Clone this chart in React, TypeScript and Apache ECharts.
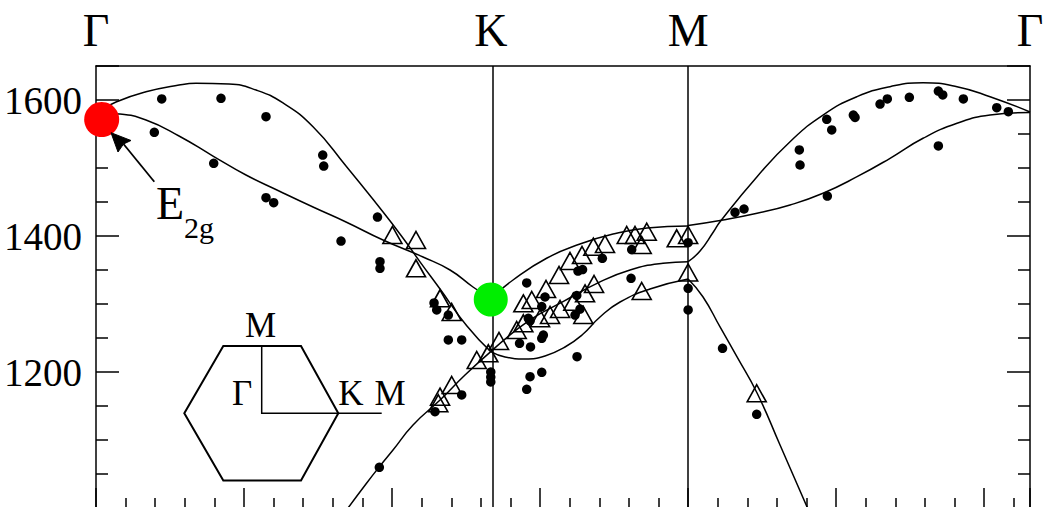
import React, { useEffect, useRef } from 'react';
import * as echarts from 'echarts';

const K_POS = 2 / 3;
const M_POS = 1;
const G_END = 1 + 1 / Math.sqrt(3);

const TOP_LABEL_VALUES = [0, K_POS, M_POS, G_END];
const TOP_LABEL_TEXT = ['Γ', 'K', 'M', 'Γ'];
const Y_LABELS = [1200, 1400, 1600];

// theory curves
const CURVE_GK_HUMP = [[0, 1581], [0.0338, 1597], [0.0844, 1612], [0.1402, 1622], [0.1689, 1624.6], [0.2246, 1623.5], [0.2702, 1614.7], [0.3158, 1595.6], [0.3665, 1560.7], [0.4222, 1503], [0.4741, 1447], [0.5168, 1399], [0.5472, 1362], [0.581, 1322], [0.6261, 1268], [K_POS, 1230]];
const CURVE_GK_LOWER = [[0, 1581], [0.0388, 1579.4], [0.0844, 1570.6], [0.1402, 1547.1], [0.1976, 1517.6], [0.2533, 1489.7], [0.3091, 1466.2], [0.3665, 1442.6], [0.4222, 1420.6], [0.4847, 1394.1], [0.5523, 1369.1], [0.5979, 1350], [0.6367, 1325], [K_POS, 1308]];
const CURVE_GK_LA = [[0.4256, 1000], [0.4572, 1036.8], [0.4796, 1061.8], [0.5016, 1085.3], [0.5354, 1122.1], [0.581, 1158.8], [0.6232, 1195.6], [K_POS, 1230]];
const CURVE_KM_UPPER = [[K_POS, 1308], [0.7043, 1335.3], [0.7617, 1367.6], [0.8174, 1388.2], [0.8732, 1402.9], [0.9306, 1411.8], [M_POS, 1414.7]];
const CURVE_KM_MID = [[K_POS, 1230], [0.733, 1276.5], [0.7887, 1303.4], [0.8461, 1330.4], [0.9019, 1350], [0.9576, 1359.9], [M_POS, 1362.2]];
const CURVE_KM_DIP = [[K_POS, 1230], [0.6908, 1222.1], [0.7245, 1219.1], [0.7583, 1223.5], [0.7921, 1236.8], [0.8208, 1254.4], [0.8512, 1280.9], [0.885, 1302.9], [0.9356, 1322.1], [M_POS, 1336.8]];
const CURVE_MG_LOWER = [[M_POS, 1415.5], [1.059, 1423.5], [1.1164, 1433.4], [1.1721, 1445.6], [1.2278, 1462.8], [1.2853, 1487.2], [1.341, 1514.3], [1.3967, 1543.7], [1.4541, 1565.7], [1.5099, 1577.9], [G_END, 1581.6]];
const CURVE_MG_UPPER = [[M_POS, 1362.2], [1.0201, 1377.9], [1.0426, 1405.9], [1.0539, 1421], [1.1164, 1487.2], [1.1721, 1538.7], [1.2278, 1577.9], [1.2853, 1604.9], [1.341, 1619.6], [1.3967, 1625.4], [1.4541, 1619.6], [1.5099, 1604.9], [G_END, 1582.4]];
const CURVE_MG_DESC = [[M_POS, 1336.8], [1.0252, 1310.3], [1.0539, 1266.2], [1.0826, 1222.1], [1.1164, 1169.1], [1.1552, 1092.6], [1.2016, 1000]];

// experimental points: filled circles
const DOTS_GK = [[0.111, 1601.5], [0.2111, 1602.5], [0.2871, 1575.4], [0.0985, 1552.5], [0.1988, 1506.9], [0.3829, 1519.1], [0.3846, 1502.9], [0.2871, 1456.3], [0.3001, 1449], [0.4754, 1427.9], [0.4138, 1392.6], [0.4796, 1362.2], [0.4796, 1352.5], [0.5709, 1301.5], [0.5754, 1291.2], [0.595, 1283.8], [0.595, 1247.1], [0.6176, 1247.1], [0.6176, 1166.2], [0.5725, 1141.6], [0.4785, 1059.9], [0.6667, 1200], [0.6667, 1192.6], [0.6667, 1185.3]];
const DOTS_KM = [[0.7274, 1330.9], [0.7583, 1310.3], [0.7528, 1296.3], [0.7301, 1279], [0.733, 1275], [0.7555, 1254.4], [0.7528, 1249.6], [0.7153, 1242.2], [0.7338, 1236.8], [0.8119, 1312.5], [0.809, 1283.8], [0.8174, 1292.6], [0.8124, 1222.5], [0.733, 1193.1], [0.7528, 1199.6], [0.7274, 1174.6], [0.8551, 1367.2], [0.814, 1348.5], [0.8217, 1350.7], [0.9047, 1380.1], [0.9036, 1337.8], [1.0, 1390.1], [1.0, 1323.1], [1.0, 1291.2]];
const DOTS_MG = [[1.0581, 1234.9], [1.1158, 1137.8], [1.0792, 1434.9], [1.0944, 1439.7], [1.1878, 1526.5], [1.189, 1504.4], [1.2341, 1571.6], [1.2425, 1555.9], [1.2351, 1458.8], [1.279, 1577.9], [1.2819, 1574.3], [1.3241, 1594.1], [1.3364, 1601.5], [1.3736, 1604], [1.4226, 1613.2], [1.43, 1607.4], [1.4648, 1601.5], [1.4226, 1532.4], [1.5212, 1588.7], [1.5408, 1582.8]];

// experimental points: open triangles
const TRI_GK = [[0.5006, 1401.5], [0.5404, 1394.1], [0.5404, 1352.5], [0.581, 1308.4], [0.6007, 1288.2], [0.643, 1217.6], [0.6626, 1227.5], [0.6007, 1180.9], [0.581, 1163.7], [0.5781, 1154]];
const TRI_KM = [[0.6806, 1245.6], [0.7105, 1261.8], [0.7217, 1301], [0.7359, 1305.9], [0.76, 1322.1], [0.782, 1342.6], [0.8005, 1363.2], [0.8208, 1372.1], [0.8399, 1384.3], [0.8596, 1388.2], [0.8963, 1401.5], [0.9103, 1401.5], [0.9301, 1406.3], [0.9216, 1386.8], [0.9807, 1396.6], [1.0, 1401.5], [0.7217, 1271.6], [0.7499, 1279], [0.7668, 1283.8], [0.7837, 1292.6], [0.8061, 1303.4], [0.8259, 1315.7], [0.8411, 1329.4], [0.823, 1283.8], [0.9216, 1319.1], [1.0, 1346.3]];
const TRI_MG = [[1.1158, 1168.7]];

const E2G_POINT = [[0.0096, 1571.3]];
const K_POINT = [[K_POS, 1306.6]];

const SERIF = '"Liberation Serif", "Times New Roman", serif';
const BLACK = '#000';

export default function App() {
  const ref = useRef<HTMLDivElement>(null);
  useEffect(() => {
    if (!ref.current) return;
    const chart = echarts.init(ref.current, undefined, { renderer: 'svg' });
    const axisLine = { show: true, onZero: false, lineStyle: { color: BLACK, width: 1.5 } };
    const curve = (data: number[][], extra: any = {}) => ({
      type: 'line', data, smooth: true, symbol: 'none', silent: true, z: 2,
      lineStyle: { color: BLACK, width: 1.5 }, ...extra,
    });
    const dots = (data: number[][]) => ({
      type: 'scatter', data, symbol: 'circle', symbolSize: 9.5, silent: true, z: 4,
      itemStyle: { color: BLACK, opacity: 1 },
    });
    const tris = (data: number[][]) => ({
      type: 'scatter', data, symbol: 'triangle', symbolSize: [19, 17], silent: true, z: 4,
      itemStyle: { color: 'rgba(0,0,0,0)', borderColor: BLACK, borderWidth: 1.6, opacity: 1 },
    });
    const yAxisBase = {
      type: 'value', min: 1000, max: 1650, interval: 200,
      axisLine,
      axisTick: { show: true, inside: true, length: 23, lineStyle: { color: BLACK, width: 1.5 } },
      minorTick: { show: true, splitNumber: 4, length: 12, lineStyle: { color: BLACK, width: 1.5 } },
      splitLine: { show: false },
    };
    const option: any = {
      animation: false,
      backgroundColor: '#fff',
      grid: { left: 96, top: 66, width: 934, height: 442, outerBoundsMode: 'none' },
      xAxis: [
        {
          type: 'value', position: 'bottom', min: 0, max: G_END, interval: 0.25,
          axisLine,
          axisTick: { show: true, inside: true, length: 20, lineStyle: { color: BLACK, width: 1.5 } },
          minorTick: { show: true, splitNumber: 5, length: 10, lineStyle: { color: BLACK, width: 1.5 } },
          axisLabel: { show: false },
          splitLine: { show: false },
        },
        {
          type: 'value', position: 'top', min: 0, max: G_END, interval: 0.25,
          axisLine,
          axisTick: { show: false },
          axisLabel: {
            show: true, customValues: TOP_LABEL_VALUES,
            formatter: (v: number) => {
              const i = TOP_LABEL_VALUES.findIndex((t) => Math.abs(t - v) < 1e-3);
              return i >= 0 ? TOP_LABEL_TEXT[i] : '';
            },
            fontSize: 46, fontFamily: SERIF, color: BLACK, margin: 36, verticalAlign: 'middle',
          },
          splitLine: { show: false },
        },
      ],
      yAxis: [
        {
          ...yAxisBase, position: 'left',
          axisLabel: {
            formatter: (v: number) => (Y_LABELS.includes(v) ? String(v) : ''),
            fontSize: 39, fontFamily: SERIF, color: BLACK, margin: 14,
          },
        },
        { ...yAxisBase, position: 'right', axisLabel: { show: false } },
      ],
      series: [
        curve(CURVE_GK_HUMP, {
          markLine: {
            symbol: ['none', 'none'], silent: true, label: { show: false },
            lineStyle: { color: BLACK, width: 1.5, type: 'solid', opacity: 1 },
            emphasis: { disabled: true },
            data: [{ xAxis: K_POS }, { xAxis: M_POS }],
          },
        }),
        curve(CURVE_GK_LOWER),
        curve(CURVE_GK_LA),
        curve(CURVE_KM_UPPER),
        curve(CURVE_KM_MID),
        curve(CURVE_KM_DIP),
        curve(CURVE_MG_LOWER),
        curve(CURVE_MG_UPPER),
        curve(CURVE_MG_DESC),
        dots(DOTS_GK),
        dots(DOTS_KM),
        dots(DOTS_MG),
        tris(TRI_GK),
        tris(TRI_KM),
        tris(TRI_MG),
        {
          type: 'scatter', data: E2G_POINT, symbol: 'circle', symbolSize: 35, clip: false, silent: true, z: 6,
          itemStyle: { color: '#ff0000', opacity: 1 },
        },
        {
          type: 'scatter', data: K_POINT, symbol: 'circle', symbolSize: 34, clip: false, silent: true, z: 6,
          itemStyle: { color: '#00ee00', opacity: 1 },
        },
      ],
      graphic: [
        {
          type: 'text', x: 156, y: 203, silent: true, z: 10,
          style: { text: 'E', fill: BLACK, font: `46px ${SERIF}`, textAlign: 'left', textVerticalAlign: 'middle', align: 'left', verticalAlign: 'middle' },
        },
        {
          type: 'text', x: 184, y: 227, silent: true, z: 10,
          style: { text: '2g', fill: BLACK, font: `30px ${SERIF}`, textAlign: 'left', textVerticalAlign: 'middle', align: 'left', verticalAlign: 'middle' },
        },
        {
          type: 'line', silent: true, z: 10,
          shape: { x1: 154.3, y1: 181.7, x2: 123.5, y2: 144 },
          style: { stroke: BLACK, lineWidth: 1.8 },
        },
        {
          type: 'polygon', silent: true, z: 10,
          shape: { points: [[111, 132.7], [131, 140.5], [123.5, 144], [118, 152]] },
          style: { fill: BLACK, stroke: BLACK, lineWidth: 1 },
        },
        {
          type: 'polygon', silent: true, z: 10,
          shape: { points: [[223.3, 346], [301, 346], [338.3, 413.3], [301, 480.5], [223.3, 480.5], [184.3, 413.3]] },
          style: { fill: 'none', stroke: BLACK, lineWidth: 2 },
        },
        {
          type: 'polyline', silent: true, z: 10,
          shape: { points: [[261.7, 346], [261.7, 413.3], [381.7, 413.3]] },
          style: { fill: 'none', stroke: BLACK, lineWidth: 1.5 },
        },
        ...[
          ['M', 260.5, 325],
          ['Γ', 242, 393],
          ['K', 351, 393],
          ['M', 390, 393],
        ].map(([t, x, y]) => ({
          type: 'text', x, y, silent: true, z: 10,
          style: { text: t, fill: BLACK, font: `35px ${SERIF}`, textAlign: 'center', textVerticalAlign: 'middle', align: 'center', verticalAlign: 'middle' },
        })),
      ],
    };
    chart.setOption(option);
    return () => chart.dispose();
  }, []);
  return (
    <div
      ref={ref}
      style={{ position: 'fixed', left: 0, top: 0, width: 1047, height: 507, background: '#fff' }}
    />
  );
}
